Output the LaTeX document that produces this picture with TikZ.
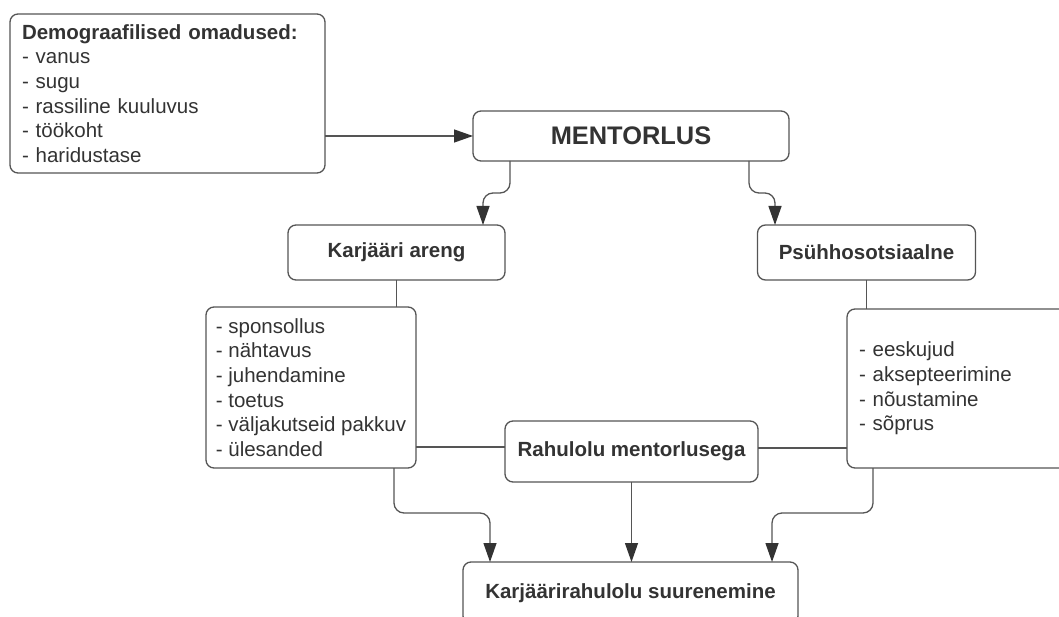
\documentclass[tikz,border=0pt]{standalone}
\usepackage{fontspec}
\setmainfont{Liberation Sans}
\usetikzlibrary{arrows.meta,calc}
\definecolor{txt}{HTML}{333333}
\definecolor{ln}{HTML}{555555}
\tikzset{
  box/.style={draw=ln, line width=1.3pt, rounded corners=8pt, fill=white, text=txt,
    font=\fontsize{20.5}{24.7}\selectfont, inner sep=0pt, outer sep=0pt},
  boldbox/.style={box, font=\fontsize{20.5}{24.7}\selectfont\bfseries},
  conn/.style={draw=ln, line width=1.3pt},
  arr/.style={conn, -{Triangle[length=19pt,width=13pt,color=txt]}, rounded corners=10pt},
}
\begin{document}
\begin{tikzpicture}[x=1pt,y=-1pt]
\path[use as bounding box] (0,0) rectangle (1059,617);
\clip (0,0) rectangle (1059,617);
\node[box, align=left, text width=291pt, minimum width=315pt, minimum height=159pt] (demo) at (167.5,93.5)
  {\textbf{Demograafilised omadused:}\\- vanus\\- sugu\\- rassiline kuuluvus\\- töökoht\\- haridustase};
\node[box, minimum width=316pt, minimum height=50pt, font=\fontsize{25.4}{30}\selectfont\bfseries] (ment) at (631,136) {MENTORLUS};
\node[boldbox, minimum width=217pt, minimum height=55pt] (karj) at (396.5,252.5) {Karjääri areng};
\node[boldbox, minimum width=218pt, minimum height=55pt] (psy) at (866.5,252.5) {Psühhosotsiaalne};
\node[box, align=left, minimum width=210pt, minimum height=161pt] (llist) at (311,387.5)
  {- sponsollus\\- nähtavus\\- juhendamine\\- toetus\\- väljakutseid pakkuv\\- ülesanded};
\node[box, align=left, text width=211pt, minimum width=235pt, minimum height=159pt] (rlist) at (964.5,388.5)
  {- eeskujud\\- aksepteerimine\\- nõustamine\\- sõprus\\[6pt]};
\node[boldbox, minimum width=253pt, minimum height=61pt] (rah) at (631.5,451.5) {Rahulolu mentorlusega};
\node[boldbox, minimum width=335pt, minimum height=62pt] (bot) at (630.5,593) {Karjäärirahulolu suurenemine};
% connectors
\coordinate (lj) at ($(rah.west)+(0,-4.5)$);
\coordinate (rj) at ($(rah.east)+(0,-3.5)$);
\draw[arr] (ment.west -| demo.east) -- (ment.west);
\draw[arr] ($(ment.south)+(-121,0)$) -- ++(0,32) -| ($(karj.north)+(86.5,0)$);
\draw[arr] ($(ment.south)+(118,0)$) -- ++(0,32) -| ($(psy.north)+(-91.5,0)$);
\draw[conn] (karj.south) -- (karj.south |- llist.north);
\draw[conn] (psy.south) -- (psy.south |- rlist.north);
\draw[conn] (lj -| llist.east) -- (lj);
\draw[conn] (rj) -- (rj -| rlist.west);
\draw[arr] ($(llist.south)+(83,0)$) -- ++(0,45) -| ($(bot.north)+(-140.5,0)$);
\draw[arr] (rah.south) -- (rah.south |- bot.north);
\draw[arr] ($(rlist.south)+(-91.5,0)$) -- ++(0,45) -| ($(bot.north)+(141.5,0)$);
\end{tikzpicture}
\end{document}
